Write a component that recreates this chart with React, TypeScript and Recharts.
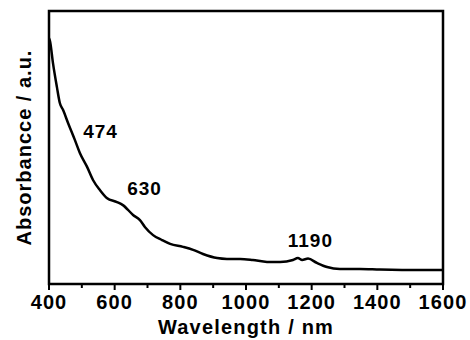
import { LineChart, Line, XAxis, YAxis, ReferenceArea, ReferenceDot } from 'recharts';

// wavelength (nm) and absorbance (a.u., normalised to the plot height)
const wavelength = [
  400, 403, 412, 424, 433, 443, 458, 479, 494, 516, 534, 555, 576, 607, 625, 656, 677, 692,
  717, 744, 769, 808, 839, 869, 912, 942, 982, 1021, 1064, 1104, 1143, 1158, 1171, 1189,
  1216, 1247, 1286, 1347, 1408, 1530, 1600,
];
const absorbance = [
  0.9, 0.89, 0.81, 0.722, 0.663, 0.637, 0.59, 0.527, 0.48, 0.429, 0.381, 0.344, 0.315, 0.3,
  0.289, 0.253, 0.234, 0.209, 0.179, 0.161, 0.147, 0.136, 0.125, 0.11, 0.095, 0.092, 0.092,
  0.088, 0.081, 0.081, 0.088, 0.095, 0.088, 0.093, 0.077, 0.062, 0.055, 0.055, 0.053, 0.051,
  0.051,
];
const xTicks = [400, 500, 600, 700, 800, 900, 1000, 1100, 1200, 1300, 1400, 1500, 1600];

// peak annotations (text, wavelength, absorbance where the text sits)
const peakLabels = ['474', '630', '1190'];
const peakX = [557, 691, 1196];
const peakY = [0.559, 0.35, 0.158];

const FONT = "Arial, 'Liberation Sans', sans-serif";

const data = wavelength.map((w, i) => ({ w, a: absorbance[i] }));

const XTick = ({ x, y, payload }: any) => {
  const major = payload.value % 200 === 0;
  return (
    <g>
      <line x1={x} x2={x} y1={y} y2={y + (major ? 6 : 4)} stroke="#000" strokeWidth={2} />
      {major && (
        <text
          x={x}
          y={y + 25}
          textAnchor="middle"
          fontFamily={FONT}
          fontWeight="bold"
          fontSize={20}
          letterSpacing={1.1}
          fill="#000"
        >
          {payload.value}
        </text>
      )}
    </g>
  );
};

export default function App() {
  return (
    <div style={{ position: 'absolute', left: 0, top: 0, background: '#fff' }}>
      <LineChart width={470} height={340} data={data} margin={{ top: 11, right: 27, left: 0, bottom: 0 }}>
        <XAxis
          dataKey="w"
          type="number"
          domain={[400, 1600]}
          ticks={xTicks}
          interval={0}
          height={56}
          tickSize={0}
          tickMargin={0}
          axisLine={false}
          tick={<XTick />}
          label={{
            content: ({ viewBox }: any) => (
              <text
                x={viewBox.x + viewBox.width / 2}
                y={viewBox.y + 50}
                textAnchor="middle"
                fontFamily={FONT}
                fontWeight="bold"
                fontSize={20}
                letterSpacing={1.2}
                fill="#000"
              >
                Wavelength / nm
              </text>
            ),
          }}
        />
        <YAxis
          type="number"
          domain={[0, 1]}
          width={49}
          tick={false}
          tickLine={false}
          axisLine={false}
          label={{
            content: ({ viewBox }: any) => {
              const cx = viewBox.x + 24;
              const cy = viewBox.y + viewBox.height / 2;
              return (
                <text
                  x={cx}
                  y={cy}
                  transform={`rotate(-90 ${cx} ${cy})`}
                  textAnchor="middle"
                  dominantBaseline="central"
                  fontFamily={FONT}
                  fontWeight="bold"
                  fontSize={20}
                  letterSpacing={1}
                  fill="#000"
                >
                  Absorbancce / a.u.
                </text>
              );
            },
          }}
        />
        <ReferenceArea x1={400} x2={1600} y1={0} y2={1} fill="none" stroke="#000" strokeWidth={2.5} />
        <Line
          type="monotone"
          dataKey="a"
          stroke="#000"
          strokeWidth={2.5}
          dot={false}
          isAnimationActive={false}
        />
        {peakLabels.map((t, i) => (
          <ReferenceDot
            key={t}
            x={peakX[i]}
            y={peakY[i]}
            r={0}
            stroke="none"
            fill="none"
            label={{
              content: ({ viewBox }: any) => (
                <text
                  x={viewBox.x + (viewBox.width || 0) / 2}
                  y={viewBox.y + (viewBox.height || 0) / 2}
                  textAnchor="middle"
                  dominantBaseline="central"
                  fontFamily={FONT}
                  fontWeight="bold"
                  fontSize={19}
                  letterSpacing={1}
                  fill="#000"
                >
                  {t}
                </text>
              ),
            }}
          />
        ))}
      </LineChart>
    </div>
  );
}
